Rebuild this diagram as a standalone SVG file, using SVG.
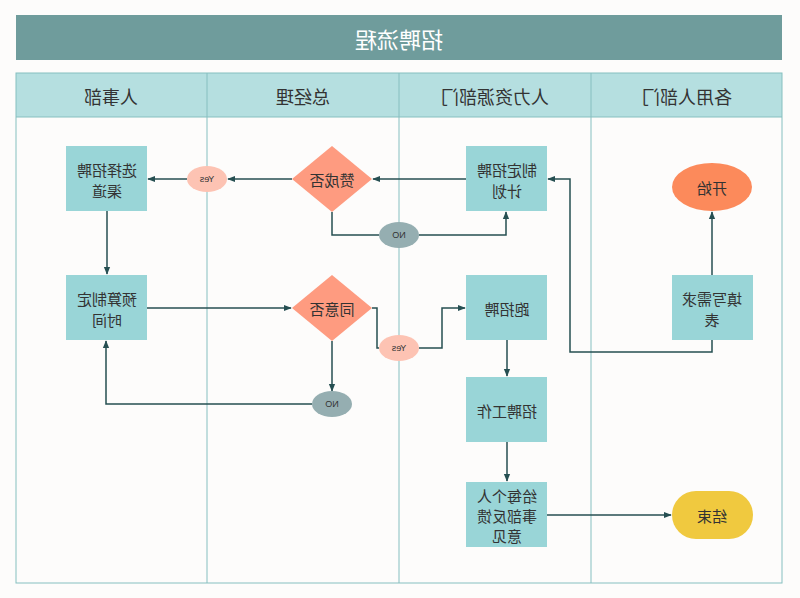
<svg xmlns="http://www.w3.org/2000/svg" width="800" height="598" viewBox="0 0 800 598">
<defs>
<marker id="ar" viewBox="0 0 10 10" refX="9" refY="5" markerWidth="8" markerHeight="8" markerUnits="userSpaceOnUse" orient="auto">
<path d="M0,1 L10,5 L0,9 Z" fill="#264f52"/>
</marker>
<style>
.t{font-family:"Noto Sans CJK SC","Noto Sans",sans-serif;fill:#333;text-anchor:middle;dominant-baseline:central}
.n{font-size:15px}
.h{font-size:18px}
.s{font-size:9px;font-family:"Liberation Sans",sans-serif;fill:#333;text-anchor:middle;dominant-baseline:central}
.box{fill:#99d5d7}
.dia{fill:#fe9b80}
.yes{fill:#fdc3b3}
.no{fill:#95aeb1}
.ln{fill:none;stroke:#264f52;stroke-width:1.5}
.lane{fill:none;stroke:#86bfc0;stroke-width:1}
</style>
</defs>
<rect width="800" height="598" fill="#fdfcfb"/>
<g transform="matrix(-1 0 0 1 800 0)">
<g id="title">
<rect x="18" y="15" width="766" height="45" fill="#6f9c9c"/>
<text class="t" x="401" y="38" style="font-size:22px;fill:#fff">招聘流程</text>
</g>
<g id="lanes">
<rect x="18" y="73" width="766" height="44" fill="#b5dfe0"/>
<rect class="lane" x="18" y="73" width="766" height="510"/>
<line class="lane" x1="18" y1="117" x2="784" y2="117"/>
<line class="lane" x1="209" y1="73" x2="209" y2="583"/>
<line class="lane" x1="401" y1="73" x2="401" y2="583"/>
<line class="lane" x1="593" y1="73" x2="593" y2="583"/>
<text class="t h" x="113" y="96">各用人部门</text>
<text class="t h" x="305" y="96">人力资源部门</text>
<text class="t h" x="497" y="96">总经理</text>
<text class="t h" x="689" y="96">人事部</text>
</g>
<g id="connectors">
<path class="ln" d="M88,275 V212" marker-end="url(#ar)"/>
<path class="ln" d="M88,340 V352 H230 V179 H252" marker-end="url(#ar)"/>
<path class="ln" d="M334,179 H427" marker-end="url(#ar)"/>
<path class="ln" d="M508,179 H572" marker-end="url(#ar)"/>
<path class="ln" d="M613,179 H652" marker-end="url(#ar)"/>
<path class="ln" d="M468,212 V235 H421"/>
<path class="ln" d="M381,235 H294 V212" marker-end="url(#ar)"/>
<path class="ln" d="M693,211 V274" marker-end="url(#ar)"/>
<path class="ln" d="M653,308 H509" marker-end="url(#ar)"/>
<path class="ln" d="M468,341 V391" marker-end="url(#ar)"/>
<path class="ln" d="M488,404 H694 V341" marker-end="url(#ar)"/>
<path class="ln" d="M428,308 H423 V348 H421"/>
<path class="ln" d="M381,348 H358 V308 H335" marker-end="url(#ar)"/>
<path class="ln" d="M293,340 V376" marker-end="url(#ar)"/>
<path class="ln" d="M293,442 V481" marker-end="url(#ar)"/>
<path class="ln" d="M253,515 H129" marker-end="url(#ar)"/>
</g>
<g id="start">
<ellipse cx="88" cy="187" rx="40" ry="24" fill="#fc8a5b"/>
<text class="t n" x="88" y="187">开始</text>
</g>
<g id="fill-form">
<rect class="box" x="47" y="275" width="81" height="65"/>
<text class="t n" x="88" y="298">填写需求</text>
<text class="t n" x="88" y="319">表</text>
</g>
<g id="plan">
<rect class="box" x="253" y="146" width="81" height="65"/>
<text class="t n" x="293" y="169">制定招聘</text>
<text class="t n" x="293" y="190">计划</text>
</g>
<g id="approve">
<polygon class="dia" points="468,146 508,179 468,212 428,179"/>
<text class="t n" x="468" y="179">赞成否</text>
</g>
<g id="yes1">
<ellipse class="yes" cx="593" cy="179" rx="20" ry="13"/>
<text class="s" x="593" y="179">Yes</text>
</g>
<g id="no1">
<ellipse class="no" cx="401" cy="235" rx="20" ry="13"/>
<text class="s" x="401" y="235">NO</text>
</g>
<g id="channel">
<rect class="box" x="653" y="146" width="81" height="65"/>
<text class="t n" x="693" y="169">选择招聘</text>
<text class="t n" x="693" y="190">渠道</text>
</g>
<g id="budget">
<rect class="box" x="653" y="275" width="81" height="65"/>
<text class="t n" x="693" y="298">预算制定</text>
<text class="t n" x="693" y="319">时间</text>
</g>
<g id="agree">
<polygon class="dia" points="468,275 508,308 468,341 428,308"/>
<text class="t n" x="468" y="308">同意否</text>
</g>
<g id="yes2">
<ellipse class="yes" cx="401" cy="348" rx="20" ry="13"/>
<text class="s" x="401" y="348">Yes</text>
</g>
<g id="no2">
<ellipse class="no" cx="468" cy="404" rx="20" ry="13"/>
<text class="s" x="468" y="404">NO</text>
</g>
<g id="run">
<rect class="box" x="253" y="275" width="81" height="65"/>
<text class="t n" x="293" y="308">跑招聘</text>
</g>
<g id="work">
<rect class="box" x="253" y="377" width="81" height="65"/>
<text class="t n" x="293" y="410">招聘工作</text>
</g>
<g id="feedback">
<rect class="box" x="253" y="482" width="81" height="65"/>
<text class="t n" x="293" y="495">给每个人</text>
<text class="t n" x="293" y="515">事部反馈</text>
<text class="t n" x="293" y="535">意见</text>
</g>
<g id="end">
<rect x="47" y="491" width="81" height="48" rx="24" fill="#f0c93f"/>
<text class="t n" x="88" y="515">结束</text>
</g>
</g>
</svg>
